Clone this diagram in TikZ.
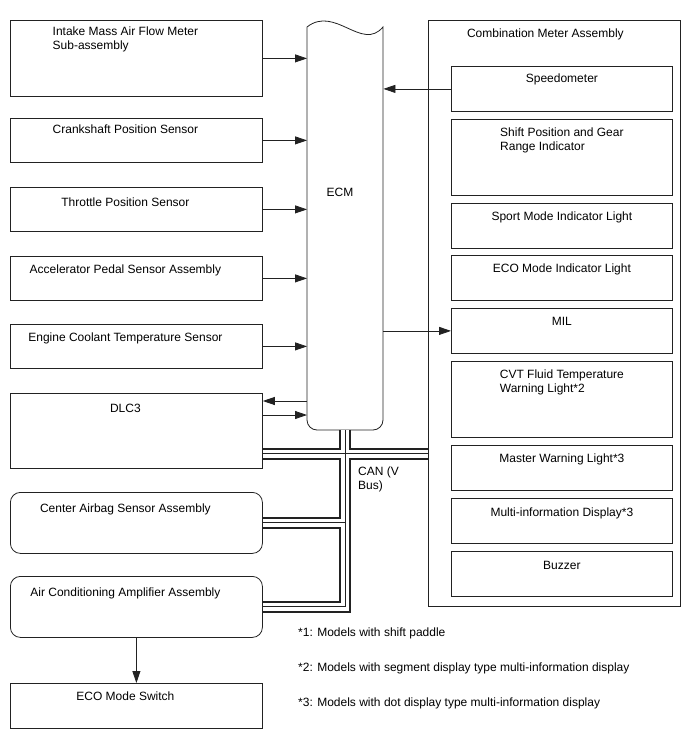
\documentclass[tikz,border=0pt]{standalone}
\usepackage{fontspec}
\setmainfont{Liberation Sans}
\usetikzlibrary{arrows.meta,positioning,calc}
\definecolor{Wire}{HTML}{222222}

\begin{document}
\begin{tikzpicture}[
  x=1pt,y=-1pt,
  font=\fontsize{12}{14}\selectfont,
  leftbox/.style={draw=Wire,line width=.8pt,anchor=north west,inner sep=0pt,
    minimum width=252pt},
  roundbox/.style={leftbox,rounded corners=10pt},
  meterpart/.style={draw=Wire,line width=.8pt,anchor=north west,inner sep=0pt,
    minimum width=221pt},
  boxtext/.style={anchor=north,inner sep=0pt,yshift=-8.7pt,align=left},
  lefttext/.style={boxtext,xshift=-11pt},
  flow/.style={-{Triangle[length=12pt,width=8pt]},line width=.8pt,draw=Wire},
  canouter/.style={line width=12pt,draw=Wire},
  caninner/.style={line width=8pt,draw=white},
  canwire/.style={line width=1pt,draw=Wire},
  remark/.style={anchor=base west,inner sep=0pt}
]
\useasboundingbox (0,0) rectangle (688,755);

% inputs on the left
\node[leftbox,minimum height=76pt,label={[lefttext,yshift=2pt]north:Intake Mass Air Flow Meter\\Sub-assembly}] (maf) at (10,20) {};
\node[leftbox,minimum height=44pt,label={[lefttext,yshift=2pt]north:Crankshaft Position Sensor}] (ckp) at (10,118) {};
\node[leftbox,minimum height=44pt,label={[lefttext,yshift=-2pt]north:Throttle Position Sensor}] (tps) at (10,187) {};
\node[leftbox,minimum height=44pt,label={[lefttext]north:Accelerator Pedal Sensor Assembly}] (app) at (10,256) {};
\node[leftbox,minimum height=44pt,label={[lefttext]north:Engine Coolant Temperature Sensor}] (ect) at (10,324) {};
\node[leftbox,minimum height=75pt,label={[lefttext,yshift=-2pt]north:DLC3}] (dlc) at (10,393) {};
\node[roundbox,minimum height=61pt,label={[lefttext,yshift=-3pt]north:Center Airbag Sensor Assembly}] (airbag) at (10,492) {};
\node[roundbox,minimum height=61pt,label={[lefttext,yshift=-3pt]north:Air Conditioning Amplifier Assembly}] (acamp) at (10,576) {};
\node[leftbox,minimum height=45pt,label={[lefttext]north:ECO Mode Switch}] (ecosw) at (10,683) {};

% ECM
\node[anchor=north west,inner sep=0pt,minimum width=76pt,minimum height=410pt] (ecm) at (307,20) {};
\draw[draw=Wire,line width=.8pt] (307,200) -- (307,27)
  .. controls (335,5) and (362,52) .. (383,27) -- (383,200)
  [rounded corners=10pt] -- (383,430) -- (307,430) -- cycle;
\node (ecmtext) at (340,192) {ECM};

% combination meter
\node[leftbox,minimum height=586pt,label={[boxtext,xshift=-9pt]north:Combination Meter Assembly}] (meter) at (428,20) {};
\node[meterpart,minimum height=45pt,label={[boxtext,yshift=1pt]north:Speedometer}] (speedo) at (451,66) {};
\node[meterpart,minimum height=76pt,label={[boxtext]north:Shift Position and Gear\\Range Indicator}] (shiftind) at (451,119) {};
\node[meterpart,minimum height=45pt,label={[boxtext]north:Sport Mode Indicator Light}] (sport) at (451,203) {};
\node[meterpart,minimum height=45pt,label={[boxtext]north:ECO Mode Indicator Light}] (ecoind) at (451,255) {};
\node[meterpart,minimum height=45pt,label={[boxtext]north:MIL}] (mil) at (451,308) {};
\node[meterpart,minimum height=76pt,label={[boxtext]north:CVT Fluid Temperature\\Warning Light*2}] (cvt) at (451,361) {};
\node[meterpart,minimum height=45pt,label={[boxtext]north:Master Warning Light*3}] (master) at (451,445) {};
\node[meterpart,minimum height=45pt,label={[boxtext,yshift=-1pt]north:Multi-information Display*3}] (mid) at (451,498) {};
\node[meterpart,minimum height=45pt,label={[boxtext,yshift=-1pt]north:Buzzer}] (buzzer) at (451,551) {};

% signal lines
\draw[flow] (maf.east) -- (maf.east -| ecm.west);
\draw[flow] (ckp.east) -- (ckp.east -| ecm.west);
\draw[flow] (tps.east) -- (tps.east -| ecm.west);
\draw[flow] (app.east) -- (app.east -| ecm.west);
\draw[flow] (ect.east) -- (ect.east -| ecm.west);
\coordinate (dlcout) at ([yshift=-8pt]dlc.north east);
\coordinate (dlcin) at ([yshift=-22pt]dlc.north east);
\draw[flow] (dlcout -| ecm.west) -- (dlcout);
\draw[flow] (dlcin) -- (dlcin -| ecm.west);
\draw[flow] (speedo.west) -- (speedo.west -| ecm.east);
\draw[flow] (mil.west -| ecm.east) -- (mil.west);
\draw[flow] (acamp.south) -- (ecosw.north);

% CAN bus, drawn in three layers
\coordinate (canh) at ([yshift=15pt]dlc.south east);
\draw[canouter] (canh) -- (canh -| meter.west)
  (ecm.south) -- (ecm.south |- acamp.east) -- (acamp.east)
  (airbag.east) -- (airbag.east -| ecm.south);
\draw[caninner] (canh) -- (canh -| meter.west)
  (ecm.south) -- (ecm.south |- acamp.east) -- (acamp.east)
  (airbag.east) -- (airbag.east -| ecm.south);
\draw[canwire] (canh) -- (canh -| meter.west)
  (ecm.south) -- (ecm.south |- acamp.east) -- (acamp.east)
  (airbag.east) -- (airbag.east -| ecm.south);
\node[anchor=north west,inner sep=0pt,align=left] (canlabel) at (358,467) {CAN (V\\Bus)};

\node[remark] (note1) at (298,636) {*1: Models with shift paddle};
\node[remark] (note2) at (298,671) {*2: Models with segment display type multi-information display};
\node[remark] (note3) at (298,706) {*3: Models with dot display type multi-information display};
\end{tikzpicture}
\end{document}
